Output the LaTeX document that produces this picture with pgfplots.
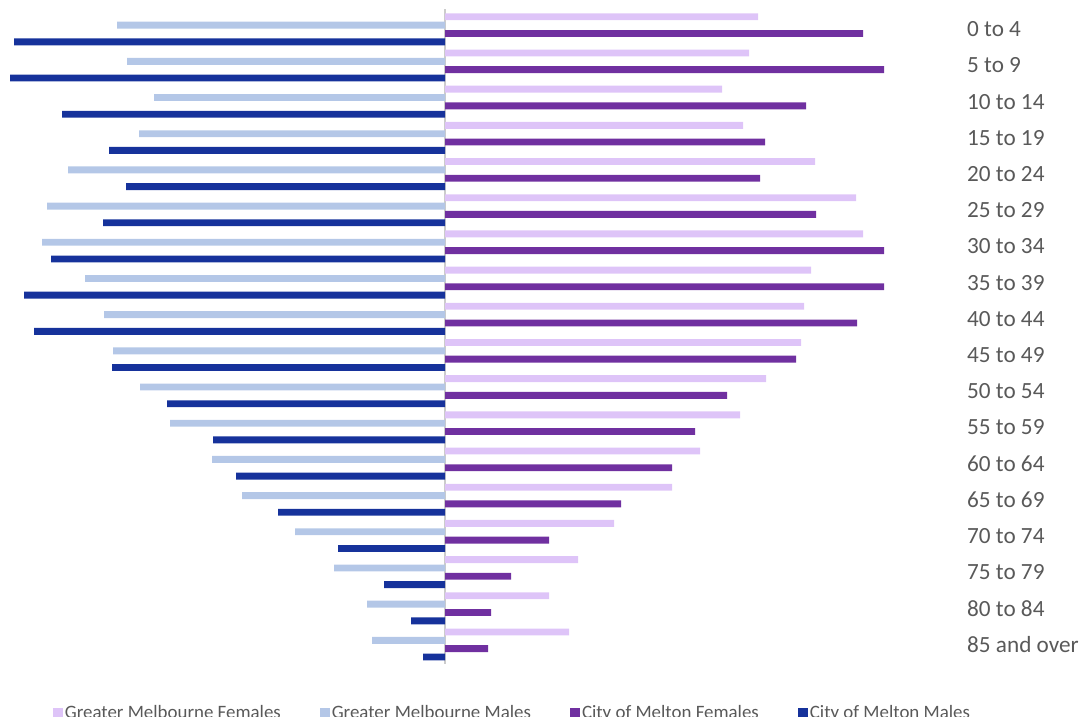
\documentclass[border=0pt]{standalone}
\usepackage{pgfplots}
\usepackage{pgfplotstable}
\pgfplotsset{compat=1.18}
\usepackage{fontspec}
\setmainfont{Carlito}
\definecolor{gmf}{RGB}{222,196,248}
\definecolor{gmm}{RGB}{180,199,231}
\definecolor{mf}{RGB}{112,48,160}
\definecolor{mm}{RGB}{22,50,155}
\definecolor{txt}{RGB}{89,89,89}
\pgfplotstableread{
y gmf gmm mf mm
0 313 -328 418 -431
1 304 -318 439 -435
2 277 -291 361 -383
3 298 -306 320 -336
4 370 -377 315 -319
5 411 -398 371 -342
6 418 -403 439 -394
7 366 -360 439 -421
8 359 -341 412 -411
9 356 -332 351 -333
10 321 -305 282 -278
11 295 -275 250 -232
12 255 -233 227 -209
13 227 -203 176 -167
14 169 -150 104 -107
15 133 -111 66 -61
16 104 -78 46 -34
17 124 -73 43 -22
}\data
\begin{document}
\begin{tikzpicture}[x=1pt,y=1pt]
\begin{axis}[
  at={(5pt,53.4pt)}, anchor=south west,
  scale only axis, width=950pt, height=651.4pt,
  xmin=-440, xmax=510, ymin=-0.5, ymax=17.5,
  y dir=reverse,
  xbar, bar width=0.19,
  axis line style={draw=none},
  xtick=\empty,
  ytick={0,...,17},
  yticklabels={0 to 4,5 to 9,10 to 14,15 to 19,20 to 24,25 to 29,30 to 34,35 to 39,40 to 44,45 to 49,50 to 54,55 to 59,60 to 64,65 to 69,70 to 74,75 to 79,80 to 84,85 and over},
  yticklabel pos=right,
  major tick length=0pt,
  yticklabel style={anchor=west, inner sep=0pt, xshift=12pt, font=\fontsize{23.2}{26}\selectfont, text=txt},
  legend columns=4,
  legend style={at={(0.047,-0.0768)}, anchor=west, draw=none, fill=none,
    font=\fontsize{18.9}{22}\selectfont, text=txt,
    /tikz/every even column/.append style={column sep=37pt}},
  legend image code/.code={\fill[#1, draw=none] (1pt,-5pt) rectangle (11pt,5pt);},
  clip=false,
]
\draw[gray!40, line width=1.5pt] (axis cs:0,-0.55) -- (axis cs:0,17.55);
\addplot[fill=gmf, draw=none, bar shift=-0.346] table[x=gmf, y=y] {\data};
\addlegendentry{Greater Melbourne Females}
\addplot[fill=gmm, draw=none, bar shift=-0.115] table[x=gmm, y=y] {\data};
\addlegendentry{Greater Melbourne Males}
\addplot[fill=mf, draw=none, bar shift=0.115] table[x=mf, y=y] {\data};
\addlegendentry{City of Melton Females}
\addplot[fill=mm, draw=none, bar shift=0.346] table[x=mm, y=y] {\data};
\addlegendentry{City of Melton Males}
\end{axis}
\pgfresetboundingbox
\useasboundingbox (0,0) rectangle (1085pt,716pt);
\end{tikzpicture}
\end{document}
